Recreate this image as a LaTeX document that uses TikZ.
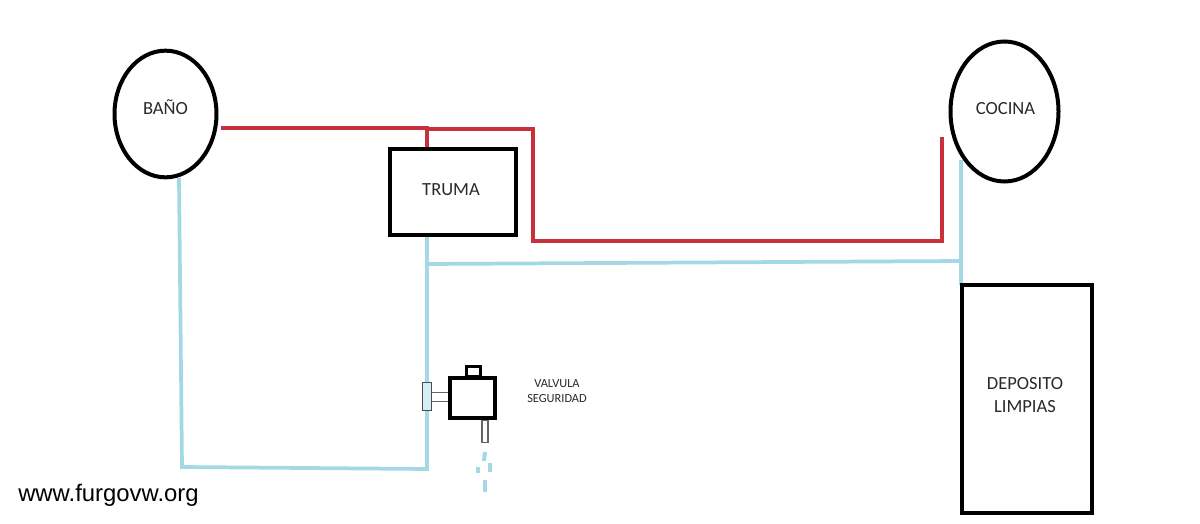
\documentclass[tikz,border=0pt]{standalone}
\usepackage{fontspec}
\setmainfont{Carlito}
\newfontfamily\webfont{Liberation Sans}
\usetikzlibrary{shapes.geometric}
\definecolor{pipered}{HTML}{C8303C}
\definecolor{pipeblue}{HTML}{A3D9E5}
\definecolor{inktext}{HTML}{2A2A2A}
\tikzset{
  x=0.75pt,y=-0.75pt,
  roomnode/.style={ellipse,draw=black,line width=3pt,inner sep=0pt},
  boxnode/.style={rectangle,draw=black,line width=3pt,inner sep=0pt},
  labeltext/.style={text=inktext,align=center,font=\fontsize{13.9}{17.5}\selectfont},
  redpipe/.style={draw=pipered,line width=2.8pt,line join=miter},
  bluepipe/.style={draw=pipeblue,line width=2.8pt,line join=miter},
  valvebody/.style={rectangle,draw=black,line width=3pt,fill=white,inner sep=0pt},
  thinpart/.style={rectangle,draw=black!60,line width=0.8pt,fill=white,inner sep=0pt},
  dropline/.style={draw=pipeblue,line width=3pt}
}
\begin{document}
\begin{tikzpicture}
\useasboundingbox (0,0) rectangle (1200,524);
\fill[white] (0,0) rectangle (1200,524);
% named junctions
\coordinate (rstart) at (221,128);
\coordinate (rtee) at (427,129);
\coordinate (rc1) at (533,129);
\coordinate (rc2) at (533,241);
\coordinate (rc3) at (942,241);
\coordinate (rend) at (942,137);
\coordinate (bc1) at (182,467);
\coordinate (bc2) at (427,469);
\coordinate (btee) at (427,264);
\coordinate (btee2) at (961,261);
\coordinate (bend) at (961,160);
% pipes
\draw[bluepipe] (179,178) -- (bc1) -- (bc2) -- (427,236);
\draw[bluepipe] (btee) -- (btee2);
\draw[bluepipe] (bend) -- (961,285);
\draw[redpipe] (rstart) -- (427,128) -- (427,148);
\draw[redpipe] (rtee) -- (rc1) -- (rc2) -- (rc3) -- (rend);
% main nodes
\node[roomnode,minimum width=76.5pt,minimum height=95pt] (bano) at (165.5,114) {};
\node[labeltext] (banolabel) at (165.5,107) {BAÑO};
\node[roomnode,minimum width=81pt,minimum height=105pt] (cocina) at (1004.5,111.5) {};
\node[labeltext] (cocinalabel) at (1005.5,108.5) {COCINA};
\node[boxnode,minimum width=95pt,minimum height=65pt] (truma) at (453,192) {};
\node[labeltext] (trumalabel) at (451,190) {TRUMA};
\node[boxnode,minimum width=97.5pt,minimum height=170.5pt] (deposito) at (1026.5,399) {};
\node[labeltext] (depositolabel) at (1025,395) {DEPOSITO\\LIMPIAS};
% valve
\node[thinpart,minimum width=14pt,minimum height=7pt] (vstem) at (440,397) {};
\node[draw=black!70,line width=0.8pt,fill=pipeblue!45,inner sep=0pt,minimum width=6.2pt,minimum height=21.5pt] (vflange) at (427,396.5) {};
\node[thinpart,minimum width=4.5pt,minimum height=17pt] (vdrain) at (485,431.5) {};
\node[valvebody,line width=2.4pt,minimum width=10pt,minimum height=8pt] (vcap) at (473.5,371.5) {};
\node[valvebody,minimum width=33.5pt,minimum height=30.5pt] (vbody) at (472.5,398) {};
\node[text=inktext,align=center,font=\fontsize{9.3}{11.5}\selectfont] (vlabel) at (557,391) {VALVULA\\SEGURIDAD};
% drops
\draw[dropline] (485,452) -- (484,461);
\draw[dropline] (478,467) -- (478,473);
\draw[dropline] (490,463) -- (490,472);
\draw[dropline] (485,480) -- (485,492);
% watermark
\node[anchor=west,inner sep=0pt,text=black,font=\webfont\fontsize{17.9}{19}\selectfont] (web) at (18,495) {www.furgovw.org};
\end{tikzpicture}
\end{document}
